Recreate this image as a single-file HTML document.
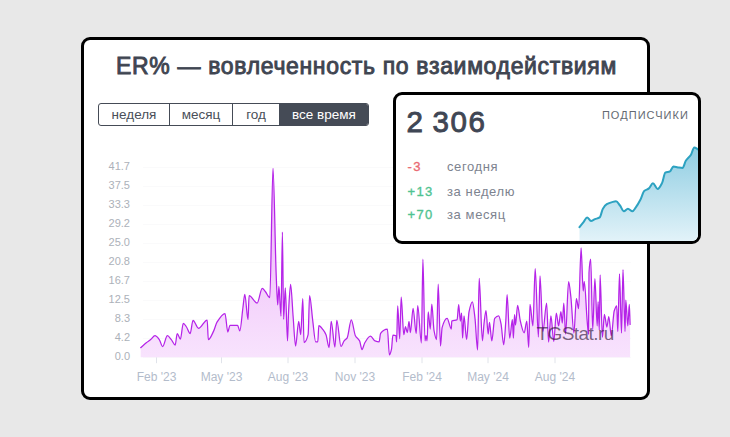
<!DOCTYPE html>
<html><head><meta charset="utf-8"><title>ER%</title>
<style>
html,body{margin:0;padding:0;}
body{width:730px;height:437px;background:#e8e8e8;position:relative;overflow:hidden;font-family:"Liberation Sans",sans-serif;}
.card{position:absolute;box-sizing:border-box;background:#fff;border:3px solid #000;border-radius:9px;}
#c1{left:81px;top:37px;width:569px;height:363px;}
#c2{left:393px;top:92px;width:308px;height:152px;overflow:hidden;}
#title{position:absolute;left:81px;top:52px;width:571px;text-align:center;font-size:23px;letter-spacing:0.66px;font-weight:normal;-webkit-text-stroke:0.9px #3f4551;color:#3f4551;line-height:28px;white-space:nowrap;}
#btns{position:absolute;left:98px;top:103px;height:23px;display:flex;box-sizing:border-box;border:1px solid #454b56;border-radius:3px;overflow:hidden;background:#fff;}
#btns div{box-sizing:border-box;height:21px;line-height:21px;font-size:13.5px;color:#4a4f59;text-align:center;border-left:1px solid #454b56;}
#btns div:first-child{border-left:none;}
#btns div.on{background:#454b56;color:#fff;}
.yl{position:absolute;left:90px;width:40px;text-align:right;font-size:11px;line-height:14px;color:#acb1b9;}
.xl{position:absolute;top:370px;width:60px;text-align:center;font-size:12px;line-height:14px;color:#b3bccb;}
svg{position:absolute;left:0;top:0;}
#wm{position:absolute;left:536.5px;top:320.9px;font-size:19px;letter-spacing:-0.58px;line-height:26px;color:rgba(55,30,65,0.68);white-space:nowrap;}
#big{position:absolute;left:406.5px;top:105px;font-size:29.5px;line-height:34px;font-weight:normal;-webkit-text-stroke:0.9px #3f4654;color:#3f4654;letter-spacing:1.6px;word-spacing:-1.9px;white-space:nowrap;}
#sub{position:absolute;left:560px;width:129px;text-align:right;top:107.8px;font-size:11px;letter-spacing:1.05px;line-height:14px;color:#646971;white-space:nowrap;}
.v{position:absolute;left:407.5px;font-size:13px;letter-spacing:1.3px;line-height:18px;-webkit-text-stroke:0.35px currentColor;white-space:nowrap;}
.l{position:absolute;left:447px;font-size:13px;letter-spacing:0.6px;line-height:18px;color:#7d838f;white-space:nowrap;}
.neg{color:#ea6a73;} .pos{color:#4fc391;}
</style></head><body>
<div class="card" id="c1"></div>
<div id="title">ER% — вовлеченность по взаимодействиям</div>
<div id="btns"><div style="width:70px">неделя</div><div style="width:63px">месяц</div><div style="width:47px">год</div><div class="on" style="width:89px">все время</div></div>
<div class="yl" style="top:159.0px">41.7</div><div class="yl" style="top:177.9px">37.5</div><div class="yl" style="top:196.9px">33.3</div><div class="yl" style="top:215.8px">29.2</div><div class="yl" style="top:234.8px">25.0</div><div class="yl" style="top:253.8px">20.8</div><div class="yl" style="top:272.7px">16.7</div><div class="yl" style="top:291.7px">12.5</div><div class="yl" style="top:310.6px">8.3</div><div class="yl" style="top:329.6px">4.2</div><div class="yl" style="top:348.5px">0.0</div><div class="xl" style="left:126.5px">Feb '23</div><div class="xl" style="left:191.5px">May '23</div><div class="xl" style="left:258px">Aug '23</div><div class="xl" style="left:325px">Nov '23</div><div class="xl" style="left:392px">Feb '24</div><div class="xl" style="left:458px">May '24</div><div class="xl" style="left:525px">Aug '24</div>
<svg width="730" height="437" viewBox="0 0 730 437">
<defs>
<linearGradient id="g1" gradientUnits="userSpaceOnUse" x1="0" y1="168" x2="0" y2="357"><stop offset="0" stop-color="#ebb0f8"/><stop offset="1" stop-color="#f8e3fd"/></linearGradient>
</defs>
<g stroke="#fafafb" stroke-width="1" shape-rendering="crispEdges"><line x1="143" x2="631" y1="167.70" y2="167.70"/><line x1="143" x2="631" y1="186.65" y2="186.65"/><line x1="143" x2="631" y1="205.60" y2="205.60"/><line x1="143" x2="631" y1="224.55" y2="224.55"/><line x1="143" x2="631" y1="243.50" y2="243.50"/><line x1="143" x2="631" y1="262.45" y2="262.45"/><line x1="143" x2="631" y1="281.40" y2="281.40"/><line x1="143" x2="631" y1="300.35" y2="300.35"/><line x1="143" x2="631" y1="319.30" y2="319.30"/><line x1="143" x2="631" y1="338.25" y2="338.25"/><line x1="143" x2="631" y1="357.20" y2="357.20"/></g>
<g stroke="#e0e3ea" stroke-width="1"><line x1="156.5" x2="156.5" y1="357.2" y2="363.2"/><line x1="221.5" x2="221.5" y1="357.2" y2="363.2"/><line x1="288" x2="288" y1="357.2" y2="363.2"/><line x1="355" x2="355" y1="357.2" y2="363.2"/><line x1="422" x2="422" y1="357.2" y2="363.2"/><line x1="488" x2="488" y1="357.2" y2="363.2"/><line x1="555" x2="555" y1="357.2" y2="363.2"/></g>
<path d="M140.7 347.7 C142.57 346.07 144.43 344.28 146.3 342.8 C147.77 341.64 149.23 340.78 150.7 339.6 C152.13 338.44 153.57 335.70 155.0 335.7 C156.43 335.70 157.87 337.75 159.3 339.6 C160.40 341.02 161.50 346.50 162.6 346.5 C164.20 346.50 165.80 335.70 167.4 335.7 C168.70 335.70 170.00 338.09 171.3 339.6 C172.60 341.11 173.90 345.00 175.2 345.0 C175.87 345.00 176.53 333.50 177.2 333.5 C178.27 333.50 179.33 339.10 180.4 339.1 C181.37 339.10 182.33 323.30 183.3 323.3 C184.37 323.30 185.43 325.52 186.5 327.0 C187.73 328.71 188.97 333.50 190.2 333.5 C191.13 333.50 192.07 320.40 193.0 320.4 C194.83 320.40 196.67 328.30 198.5 328.3 C201.40 328.30 204.30 320.00 207.2 320.0 C207.57 320.00 207.93 339.60 208.3 339.6 C210.10 339.60 211.90 334.57 213.7 330.9 C214.80 328.66 215.90 324.00 217.0 322.2 C219.67 317.84 222.33 313.50 225.0 313.5 C225.93 313.50 226.87 332.00 227.8 332.0 C228.53 332.00 229.27 325.40 230.0 325.4 C232.53 325.40 235.07 325.40 237.6 325.4 C238.33 325.40 239.07 330.90 239.8 330.9 C240.87 330.90 241.93 314.72 243.0 307.0 C243.60 302.66 244.20 294.30 244.8 294.3 C245.87 294.30 246.93 319.60 248.0 319.6 C248.37 319.60 248.73 295.70 249.1 295.7 C251.80 295.70 254.50 303.00 257.2 303.0 C258.87 303.00 260.53 288.40 262.2 288.4 C263.23 288.40 264.27 290.31 265.3 291.5 C266.80 293.22 268.30 297.70 269.8 297.7 C270.87 297.70 271.93 168.30 273.0 168.3 C274.07 168.30 275.13 249.17 276.2 275.0 C276.70 287.11 277.20 304.90 277.7 304.9 C278.10 304.90 278.50 286.30 278.9 286.3 C279.60 286.30 280.30 316.20 281.0 316.2 C281.47 316.20 281.93 232.20 282.4 232.2 C282.80 232.20 283.20 319.30 283.6 319.3 C284.17 319.30 284.73 287.80 285.3 287.8 C286.03 287.80 286.77 340.90 287.5 340.9 C287.87 340.90 288.23 317.79 288.6 311.0 C289.27 298.66 289.93 284.30 290.6 284.3 C291.43 284.30 292.27 305.93 293.1 316.2 C293.93 326.47 294.77 346.00 295.6 346.0 C296.63 346.00 297.67 321.30 298.7 321.3 C299.37 321.30 300.03 334.70 300.7 334.7 C301.40 334.70 302.10 298.70 302.8 298.7 C303.20 298.70 303.60 342.50 304.0 342.5 C305.37 342.50 306.73 340.29 308.1 334.7 C308.60 332.65 309.10 295.60 309.6 295.6 C310.63 295.60 311.67 312.49 312.7 320.3 C313.70 327.86 314.70 341.90 315.7 341.9 C316.40 341.90 317.10 341.90 317.8 341.9 C318.13 341.90 318.47 325.50 318.8 325.5 C320.20 325.50 321.60 327.84 323.0 329.6 C324.00 330.86 325.00 332.30 326.0 334.7 C327.03 337.18 328.07 347.50 329.1 347.5 C329.80 347.50 330.50 321.30 331.2 321.3 C332.43 321.30 333.67 347.00 334.9 347.0 C335.53 347.00 336.17 320.30 336.8 320.3 C338.20 320.30 339.60 346.50 341.0 346.5 C342.03 346.50 343.07 342.23 344.1 340.9 C345.13 339.57 346.17 339.43 347.2 337.8 C348.57 335.64 349.93 319.90 351.3 319.9 C352.67 319.90 354.03 333.13 355.4 335.7 C356.80 338.33 358.20 338.20 359.6 340.9 C360.40 342.44 361.20 349.50 362.0 349.5 C362.90 349.50 363.80 344.48 364.7 343.0 C366.63 339.82 368.57 336.20 370.5 336.2 C372.00 336.20 373.50 340.31 375.0 340.9 C376.37 341.44 377.73 341.90 379.1 341.9 C379.60 341.90 380.10 333.99 380.6 333.3 C382.87 330.19 385.13 329.00 387.4 329.0 C388.07 329.00 388.73 354.90 389.4 354.9 C390.10 354.90 390.80 352.25 391.5 349.1 C391.97 347.00 392.43 335.10 392.9 335.1 C393.93 335.10 394.97 335.20 396.0 335.7 C396.20 335.80 396.40 341.90 396.6 341.9 C396.97 341.90 397.33 305.90 397.7 305.9 C398.37 305.90 399.03 338.80 399.7 338.8 C400.20 338.80 400.70 297.20 401.2 297.2 C402.07 297.20 402.93 334.70 403.8 334.7 C404.37 334.70 404.93 326.50 405.5 326.5 C406.10 326.50 406.70 332.70 407.3 332.7 C407.87 332.70 408.43 321.30 409.0 321.3 C409.47 321.30 409.93 332.70 410.4 332.7 C411.30 332.70 412.20 308.40 413.1 308.4 C414.13 308.40 415.17 333.70 416.2 333.7 C416.70 333.70 417.20 305.60 417.7 305.6 C418.93 305.60 420.17 343.00 421.4 343.0 C421.90 343.00 422.40 259.20 422.9 259.2 C423.60 259.20 424.30 340.80 425.0 340.8 C425.33 340.80 425.67 335.50 426.0 335.5 C426.37 335.50 426.73 340.80 427.1 340.8 C427.47 340.80 427.83 311.80 428.2 311.8 C428.90 311.80 429.60 329.00 430.3 329.0 C430.80 329.00 431.30 304.00 431.8 304.0 C432.53 304.00 433.27 326.23 434.0 330.3 C434.87 335.11 435.73 339.50 436.6 339.5 C437.13 339.50 437.67 284.20 438.2 284.2 C438.97 284.20 439.73 346.00 440.5 346.0 C441.03 346.00 441.57 329.53 442.1 327.6 C443.77 321.56 445.43 318.40 447.1 318.4 C448.50 318.40 449.90 329.00 451.3 329.0 C451.47 329.00 451.63 321.11 451.8 321.0 C453.57 319.83 455.33 320.72 457.1 319.7 C457.63 319.39 458.17 304.50 458.7 304.5 C459.23 304.50 459.77 321.00 460.3 321.0 C460.73 321.00 461.17 313.20 461.6 313.2 C461.93 313.20 462.27 338.20 462.6 338.2 C463.07 338.20 463.53 315.80 464.0 315.8 C464.87 315.80 465.73 339.50 466.6 339.5 C467.40 339.50 468.20 315.68 469.0 311.8 C470.13 306.30 471.27 301.80 472.4 301.8 C473.27 301.80 474.13 311.14 475.0 318.4 C475.87 325.66 476.73 350.00 477.6 350.0 C478.13 350.00 478.67 278.40 479.2 278.4 C480.27 278.40 481.33 340.80 482.4 340.8 C482.93 340.80 483.47 328.09 484.0 323.7 C484.67 318.21 485.33 310.50 486.0 310.5 C486.73 310.50 487.47 334.20 488.2 334.2 C488.63 334.20 489.07 322.40 489.5 322.4 C490.27 322.40 491.03 340.80 491.8 340.8 C492.77 340.80 493.73 319.61 494.7 318.4 C496.03 316.73 497.37 315.80 498.7 315.8 C499.47 315.80 500.23 320.08 501.0 323.7 C501.90 327.94 502.80 344.70 503.7 344.7 C504.40 344.70 505.10 331.37 505.8 321.0 C506.23 314.58 506.67 294.70 507.1 294.7 C507.97 294.70 508.83 338.20 509.7 338.2 C510.60 338.20 511.50 319.70 512.4 319.7 C512.73 319.70 513.07 338.20 513.4 338.2 C513.77 338.20 514.13 314.50 514.5 314.5 C514.83 314.50 515.17 325.00 515.5 325.0 C516.20 325.00 516.90 305.30 517.6 305.3 C518.50 305.30 519.40 317.33 520.3 321.0 C521.60 326.30 522.90 332.90 524.2 332.9 C525.07 332.90 525.93 321.00 526.8 321.0 C527.43 321.00 528.07 347.40 528.7 347.4 C529.13 347.40 529.57 304.40 530.0 304.4 C530.97 304.40 531.93 325.80 532.9 325.8 C533.67 325.80 534.43 268.60 535.2 268.6 C536.27 268.60 537.33 337.00 538.4 337.0 C538.93 337.00 539.47 275.80 540.0 275.8 C540.97 275.80 541.93 331.50 542.9 331.5 C544.13 331.50 545.37 303.00 546.6 303.0 C547.27 303.00 547.93 342.00 548.6 342.0 C549.37 342.00 550.13 315.80 550.9 315.8 C551.87 315.80 552.83 341.50 553.8 341.5 C554.63 341.50 555.47 313.00 556.3 313.0 C557.07 313.00 557.83 325.80 558.6 325.8 C559.37 325.80 560.13 311.50 560.9 311.5 C561.37 311.50 561.83 323.00 562.3 323.0 C562.80 323.00 563.30 303.00 563.8 303.0 C564.40 303.00 565.00 334.00 565.6 334.0 C566.60 334.00 567.60 281.50 568.6 281.5 C569.37 281.50 570.13 290.62 570.9 297.2 C571.90 305.78 572.90 333.00 573.9 333.0 C574.73 333.00 575.57 298.60 576.4 298.6 C577.13 298.60 577.87 308.60 578.6 308.6 C579.43 308.60 580.27 247.80 581.1 247.8 C581.80 247.80 582.50 291.00 583.2 291.0 C583.57 291.00 583.93 281.50 584.3 281.5 C585.27 281.50 586.23 310.79 587.2 321.5 C587.63 326.30 588.07 334.00 588.5 334.0 C588.67 334.00 588.83 276.02 589.0 273.0 C589.57 262.74 590.13 259.20 590.7 259.2 C591.37 259.20 592.03 329.50 592.7 329.5 C593.43 329.50 594.17 278.60 594.9 278.6 C595.67 278.60 596.43 325.80 597.2 325.8 C597.50 325.80 597.80 301.50 598.1 301.5 C598.50 301.50 598.90 330.00 599.3 330.0 C599.57 330.00 599.83 274.90 600.1 274.9 C600.87 274.90 601.63 337.30 602.4 337.3 C603.07 337.30 603.73 314.40 604.4 314.4 C605.23 314.40 606.07 327.00 606.9 327.0 C607.53 327.00 608.17 316.50 608.8 316.5 C609.63 316.50 610.47 336.00 611.3 336.0 C612.27 336.00 613.23 314.19 614.2 311.0 C615.03 308.25 615.87 305.80 616.7 305.8 C617.07 305.80 617.43 331.50 617.8 331.5 C618.37 331.50 618.93 273.80 619.5 273.8 C620.17 273.80 620.83 333.00 621.5 333.0 C622.00 333.00 622.50 269.50 623.0 269.5 C623.67 269.50 624.33 331.50 625.0 331.5 C625.27 331.50 625.53 300.00 625.8 300.0 C626.47 300.00 627.13 325.80 627.8 325.8 C628.30 325.80 628.80 304.40 629.3 304.4 C629.57 304.40 629.83 317.73 630.1 324.4 L630.1 357.2 L140.7 357.2 Z" fill="url(#g1)" stroke="none"/>
<path d="M140.7 347.7 C142.57 346.07 144.43 344.28 146.3 342.8 C147.77 341.64 149.23 340.78 150.7 339.6 C152.13 338.44 153.57 335.70 155.0 335.7 C156.43 335.70 157.87 337.75 159.3 339.6 C160.40 341.02 161.50 346.50 162.6 346.5 C164.20 346.50 165.80 335.70 167.4 335.7 C168.70 335.70 170.00 338.09 171.3 339.6 C172.60 341.11 173.90 345.00 175.2 345.0 C175.87 345.00 176.53 333.50 177.2 333.5 C178.27 333.50 179.33 339.10 180.4 339.1 C181.37 339.10 182.33 323.30 183.3 323.3 C184.37 323.30 185.43 325.52 186.5 327.0 C187.73 328.71 188.97 333.50 190.2 333.5 C191.13 333.50 192.07 320.40 193.0 320.4 C194.83 320.40 196.67 328.30 198.5 328.3 C201.40 328.30 204.30 320.00 207.2 320.0 C207.57 320.00 207.93 339.60 208.3 339.6 C210.10 339.60 211.90 334.57 213.7 330.9 C214.80 328.66 215.90 324.00 217.0 322.2 C219.67 317.84 222.33 313.50 225.0 313.5 C225.93 313.50 226.87 332.00 227.8 332.0 C228.53 332.00 229.27 325.40 230.0 325.4 C232.53 325.40 235.07 325.40 237.6 325.4 C238.33 325.40 239.07 330.90 239.8 330.9 C240.87 330.90 241.93 314.72 243.0 307.0 C243.60 302.66 244.20 294.30 244.8 294.3 C245.87 294.30 246.93 319.60 248.0 319.6 C248.37 319.60 248.73 295.70 249.1 295.7 C251.80 295.70 254.50 303.00 257.2 303.0 C258.87 303.00 260.53 288.40 262.2 288.4 C263.23 288.40 264.27 290.31 265.3 291.5 C266.80 293.22 268.30 297.70 269.8 297.7 C270.87 297.70 271.93 168.30 273.0 168.3 C274.07 168.30 275.13 249.17 276.2 275.0 C276.70 287.11 277.20 304.90 277.7 304.9 C278.10 304.90 278.50 286.30 278.9 286.3 C279.60 286.30 280.30 316.20 281.0 316.2 C281.47 316.20 281.93 232.20 282.4 232.2 C282.80 232.20 283.20 319.30 283.6 319.3 C284.17 319.30 284.73 287.80 285.3 287.8 C286.03 287.80 286.77 340.90 287.5 340.9 C287.87 340.90 288.23 317.79 288.6 311.0 C289.27 298.66 289.93 284.30 290.6 284.3 C291.43 284.30 292.27 305.93 293.1 316.2 C293.93 326.47 294.77 346.00 295.6 346.0 C296.63 346.00 297.67 321.30 298.7 321.3 C299.37 321.30 300.03 334.70 300.7 334.7 C301.40 334.70 302.10 298.70 302.8 298.7 C303.20 298.70 303.60 342.50 304.0 342.5 C305.37 342.50 306.73 340.29 308.1 334.7 C308.60 332.65 309.10 295.60 309.6 295.6 C310.63 295.60 311.67 312.49 312.7 320.3 C313.70 327.86 314.70 341.90 315.7 341.9 C316.40 341.90 317.10 341.90 317.8 341.9 C318.13 341.90 318.47 325.50 318.8 325.5 C320.20 325.50 321.60 327.84 323.0 329.6 C324.00 330.86 325.00 332.30 326.0 334.7 C327.03 337.18 328.07 347.50 329.1 347.5 C329.80 347.50 330.50 321.30 331.2 321.3 C332.43 321.30 333.67 347.00 334.9 347.0 C335.53 347.00 336.17 320.30 336.8 320.3 C338.20 320.30 339.60 346.50 341.0 346.5 C342.03 346.50 343.07 342.23 344.1 340.9 C345.13 339.57 346.17 339.43 347.2 337.8 C348.57 335.64 349.93 319.90 351.3 319.9 C352.67 319.90 354.03 333.13 355.4 335.7 C356.80 338.33 358.20 338.20 359.6 340.9 C360.40 342.44 361.20 349.50 362.0 349.5 C362.90 349.50 363.80 344.48 364.7 343.0 C366.63 339.82 368.57 336.20 370.5 336.2 C372.00 336.20 373.50 340.31 375.0 340.9 C376.37 341.44 377.73 341.90 379.1 341.9 C379.60 341.90 380.10 333.99 380.6 333.3 C382.87 330.19 385.13 329.00 387.4 329.0 C388.07 329.00 388.73 354.90 389.4 354.9 C390.10 354.90 390.80 352.25 391.5 349.1 C391.97 347.00 392.43 335.10 392.9 335.1 C393.93 335.10 394.97 335.20 396.0 335.7 C396.20 335.80 396.40 341.90 396.6 341.9 C396.97 341.90 397.33 305.90 397.7 305.9 C398.37 305.90 399.03 338.80 399.7 338.8 C400.20 338.80 400.70 297.20 401.2 297.2 C402.07 297.20 402.93 334.70 403.8 334.7 C404.37 334.70 404.93 326.50 405.5 326.5 C406.10 326.50 406.70 332.70 407.3 332.7 C407.87 332.70 408.43 321.30 409.0 321.3 C409.47 321.30 409.93 332.70 410.4 332.7 C411.30 332.70 412.20 308.40 413.1 308.4 C414.13 308.40 415.17 333.70 416.2 333.7 C416.70 333.70 417.20 305.60 417.7 305.6 C418.93 305.60 420.17 343.00 421.4 343.0 C421.90 343.00 422.40 259.20 422.9 259.2 C423.60 259.20 424.30 340.80 425.0 340.8 C425.33 340.80 425.67 335.50 426.0 335.5 C426.37 335.50 426.73 340.80 427.1 340.8 C427.47 340.80 427.83 311.80 428.2 311.8 C428.90 311.80 429.60 329.00 430.3 329.0 C430.80 329.00 431.30 304.00 431.8 304.0 C432.53 304.00 433.27 326.23 434.0 330.3 C434.87 335.11 435.73 339.50 436.6 339.5 C437.13 339.50 437.67 284.20 438.2 284.2 C438.97 284.20 439.73 346.00 440.5 346.0 C441.03 346.00 441.57 329.53 442.1 327.6 C443.77 321.56 445.43 318.40 447.1 318.4 C448.50 318.40 449.90 329.00 451.3 329.0 C451.47 329.00 451.63 321.11 451.8 321.0 C453.57 319.83 455.33 320.72 457.1 319.7 C457.63 319.39 458.17 304.50 458.7 304.5 C459.23 304.50 459.77 321.00 460.3 321.0 C460.73 321.00 461.17 313.20 461.6 313.2 C461.93 313.20 462.27 338.20 462.6 338.2 C463.07 338.20 463.53 315.80 464.0 315.8 C464.87 315.80 465.73 339.50 466.6 339.5 C467.40 339.50 468.20 315.68 469.0 311.8 C470.13 306.30 471.27 301.80 472.4 301.8 C473.27 301.80 474.13 311.14 475.0 318.4 C475.87 325.66 476.73 350.00 477.6 350.0 C478.13 350.00 478.67 278.40 479.2 278.4 C480.27 278.40 481.33 340.80 482.4 340.8 C482.93 340.80 483.47 328.09 484.0 323.7 C484.67 318.21 485.33 310.50 486.0 310.5 C486.73 310.50 487.47 334.20 488.2 334.2 C488.63 334.20 489.07 322.40 489.5 322.4 C490.27 322.40 491.03 340.80 491.8 340.8 C492.77 340.80 493.73 319.61 494.7 318.4 C496.03 316.73 497.37 315.80 498.7 315.8 C499.47 315.80 500.23 320.08 501.0 323.7 C501.90 327.94 502.80 344.70 503.7 344.7 C504.40 344.70 505.10 331.37 505.8 321.0 C506.23 314.58 506.67 294.70 507.1 294.7 C507.97 294.70 508.83 338.20 509.7 338.2 C510.60 338.20 511.50 319.70 512.4 319.7 C512.73 319.70 513.07 338.20 513.4 338.2 C513.77 338.20 514.13 314.50 514.5 314.5 C514.83 314.50 515.17 325.00 515.5 325.0 C516.20 325.00 516.90 305.30 517.6 305.3 C518.50 305.30 519.40 317.33 520.3 321.0 C521.60 326.30 522.90 332.90 524.2 332.9 C525.07 332.90 525.93 321.00 526.8 321.0 C527.43 321.00 528.07 347.40 528.7 347.4 C529.13 347.40 529.57 304.40 530.0 304.4 C530.97 304.40 531.93 325.80 532.9 325.8 C533.67 325.80 534.43 268.60 535.2 268.6 C536.27 268.60 537.33 337.00 538.4 337.0 C538.93 337.00 539.47 275.80 540.0 275.8 C540.97 275.80 541.93 331.50 542.9 331.5 C544.13 331.50 545.37 303.00 546.6 303.0 C547.27 303.00 547.93 342.00 548.6 342.0 C549.37 342.00 550.13 315.80 550.9 315.8 C551.87 315.80 552.83 341.50 553.8 341.5 C554.63 341.50 555.47 313.00 556.3 313.0 C557.07 313.00 557.83 325.80 558.6 325.8 C559.37 325.80 560.13 311.50 560.9 311.5 C561.37 311.50 561.83 323.00 562.3 323.0 C562.80 323.00 563.30 303.00 563.8 303.0 C564.40 303.00 565.00 334.00 565.6 334.0 C566.60 334.00 567.60 281.50 568.6 281.5 C569.37 281.50 570.13 290.62 570.9 297.2 C571.90 305.78 572.90 333.00 573.9 333.0 C574.73 333.00 575.57 298.60 576.4 298.6 C577.13 298.60 577.87 308.60 578.6 308.6 C579.43 308.60 580.27 247.80 581.1 247.8 C581.80 247.80 582.50 291.00 583.2 291.0 C583.57 291.00 583.93 281.50 584.3 281.5 C585.27 281.50 586.23 310.79 587.2 321.5 C587.63 326.30 588.07 334.00 588.5 334.0 C588.67 334.00 588.83 276.02 589.0 273.0 C589.57 262.74 590.13 259.20 590.7 259.2 C591.37 259.20 592.03 329.50 592.7 329.5 C593.43 329.50 594.17 278.60 594.9 278.6 C595.67 278.60 596.43 325.80 597.2 325.8 C597.50 325.80 597.80 301.50 598.1 301.5 C598.50 301.50 598.90 330.00 599.3 330.0 C599.57 330.00 599.83 274.90 600.1 274.9 C600.87 274.90 601.63 337.30 602.4 337.3 C603.07 337.30 603.73 314.40 604.4 314.4 C605.23 314.40 606.07 327.00 606.9 327.0 C607.53 327.00 608.17 316.50 608.8 316.5 C609.63 316.50 610.47 336.00 611.3 336.0 C612.27 336.00 613.23 314.19 614.2 311.0 C615.03 308.25 615.87 305.80 616.7 305.8 C617.07 305.80 617.43 331.50 617.8 331.5 C618.37 331.50 618.93 273.80 619.5 273.8 C620.17 273.80 620.83 333.00 621.5 333.0 C622.00 333.00 622.50 269.50 623.0 269.5 C623.67 269.50 624.33 331.50 625.0 331.5 C625.27 331.50 625.53 300.00 625.8 300.0 C626.47 300.00 627.13 325.80 627.8 325.8 C628.30 325.80 628.80 304.40 629.3 304.4 C629.57 304.40 629.83 317.73 630.1 324.4" fill="none" stroke="#b523e8" stroke-width="1.25" stroke-linejoin="round" stroke-linecap="round"/>
</svg>
<div id="wm">TGStat.ru</div>
<div class="card" id="c2"></div>
<svg width="730" height="437" viewBox="0 0 730 437">
<defs>
<linearGradient id="g2" gradientUnits="userSpaceOnUse" x1="0" y1="147" x2="0" y2="242"><stop offset="0" stop-color="#8fcde2"/><stop offset="1" stop-color="#e3f3f9"/></linearGradient>
<clipPath id="cp2"><rect x="396" y="95" width="302" height="146" rx="6" ry="6"/></clipPath>
</defs>
<g clip-path="url(#cp2)">
<path d="M579.5 227.1 C580.90 225.33 582.30 223.59 583.7 221.8 C584.83 220.35 585.97 217.40 587.1 217.4 C588.40 217.40 589.70 221.00 591.0 221.0 C592.33 221.00 593.67 219.75 595.0 219.2 C596.57 218.55 598.13 218.50 599.7 217.4 C600.77 216.65 601.83 210.45 602.9 208.7 C604.20 206.57 605.50 204.99 606.8 204.2 C608.57 203.13 610.33 202.57 612.1 202.1 C613.40 201.75 614.70 201.30 616.0 201.3 C617.33 201.30 618.67 203.86 620.0 205.5 C621.30 207.10 622.60 211.30 623.9 211.3 C625.23 211.30 626.57 208.70 627.9 208.7 C629.40 208.70 630.90 211.30 632.4 211.3 C633.53 211.30 634.67 208.93 635.8 207.4 C637.37 205.29 638.93 202.56 640.5 199.5 C641.73 197.09 642.97 192.13 644.2 191.0 C645.77 189.57 647.33 189.63 648.9 188.4 C650.23 187.35 651.57 183.20 652.9 183.2 C654.47 183.20 656.03 188.90 657.6 188.9 C659.10 188.90 660.60 185.80 662.1 182.9 C663.17 180.84 664.23 173.17 665.3 172.6 C666.87 171.76 668.43 172.05 670.0 171.3 C671.13 170.76 672.27 166.60 673.4 166.6 C674.90 166.60 676.40 167.20 677.9 167.4 C679.47 167.61 681.03 167.90 682.6 167.9 C683.67 167.90 684.73 162.48 685.8 160.8 C687.53 158.07 689.27 157.46 691.0 154.7 C692.07 153.00 693.13 147.40 694.2 147.4 C695.53 147.40 696.87 148.80 698.2 149.5 L698.2 241.5 L579.5 241.5 Z" fill="url(#g2)"/>
<path d="M579.5 227.1 C580.90 225.33 582.30 223.59 583.7 221.8 C584.83 220.35 585.97 217.40 587.1 217.4 C588.40 217.40 589.70 221.00 591.0 221.0 C592.33 221.00 593.67 219.75 595.0 219.2 C596.57 218.55 598.13 218.50 599.7 217.4 C600.77 216.65 601.83 210.45 602.9 208.7 C604.20 206.57 605.50 204.99 606.8 204.2 C608.57 203.13 610.33 202.57 612.1 202.1 C613.40 201.75 614.70 201.30 616.0 201.3 C617.33 201.30 618.67 203.86 620.0 205.5 C621.30 207.10 622.60 211.30 623.9 211.3 C625.23 211.30 626.57 208.70 627.9 208.7 C629.40 208.70 630.90 211.30 632.4 211.3 C633.53 211.30 634.67 208.93 635.8 207.4 C637.37 205.29 638.93 202.56 640.5 199.5 C641.73 197.09 642.97 192.13 644.2 191.0 C645.77 189.57 647.33 189.63 648.9 188.4 C650.23 187.35 651.57 183.20 652.9 183.2 C654.47 183.20 656.03 188.90 657.6 188.9 C659.10 188.90 660.60 185.80 662.1 182.9 C663.17 180.84 664.23 173.17 665.3 172.6 C666.87 171.76 668.43 172.05 670.0 171.3 C671.13 170.76 672.27 166.60 673.4 166.6 C674.90 166.60 676.40 167.20 677.9 167.4 C679.47 167.61 681.03 167.90 682.6 167.9 C683.67 167.90 684.73 162.48 685.8 160.8 C687.53 158.07 689.27 157.46 691.0 154.7 C692.07 153.00 693.13 147.40 694.2 147.4 C695.53 147.40 696.87 148.80 698.2 149.5" fill="none" stroke="#2da2c1" stroke-width="2" stroke-linejoin="round" stroke-linecap="round"/>
</g>
</svg>
<div id="big">2 306</div>
<div id="sub">ПОДПИСЧИКИ</div>
<div class="v neg" style="top:158.4px">-3</div><div class="l" style="top:158.4px">сегодня</div>
<div class="v pos" style="top:182.9px">+13</div><div class="l" style="top:182.9px">за неделю</div>
<div class="v pos" style="top:205.5px">+70</div><div class="l" style="top:205.5px">за месяц</div>
</body></html>
